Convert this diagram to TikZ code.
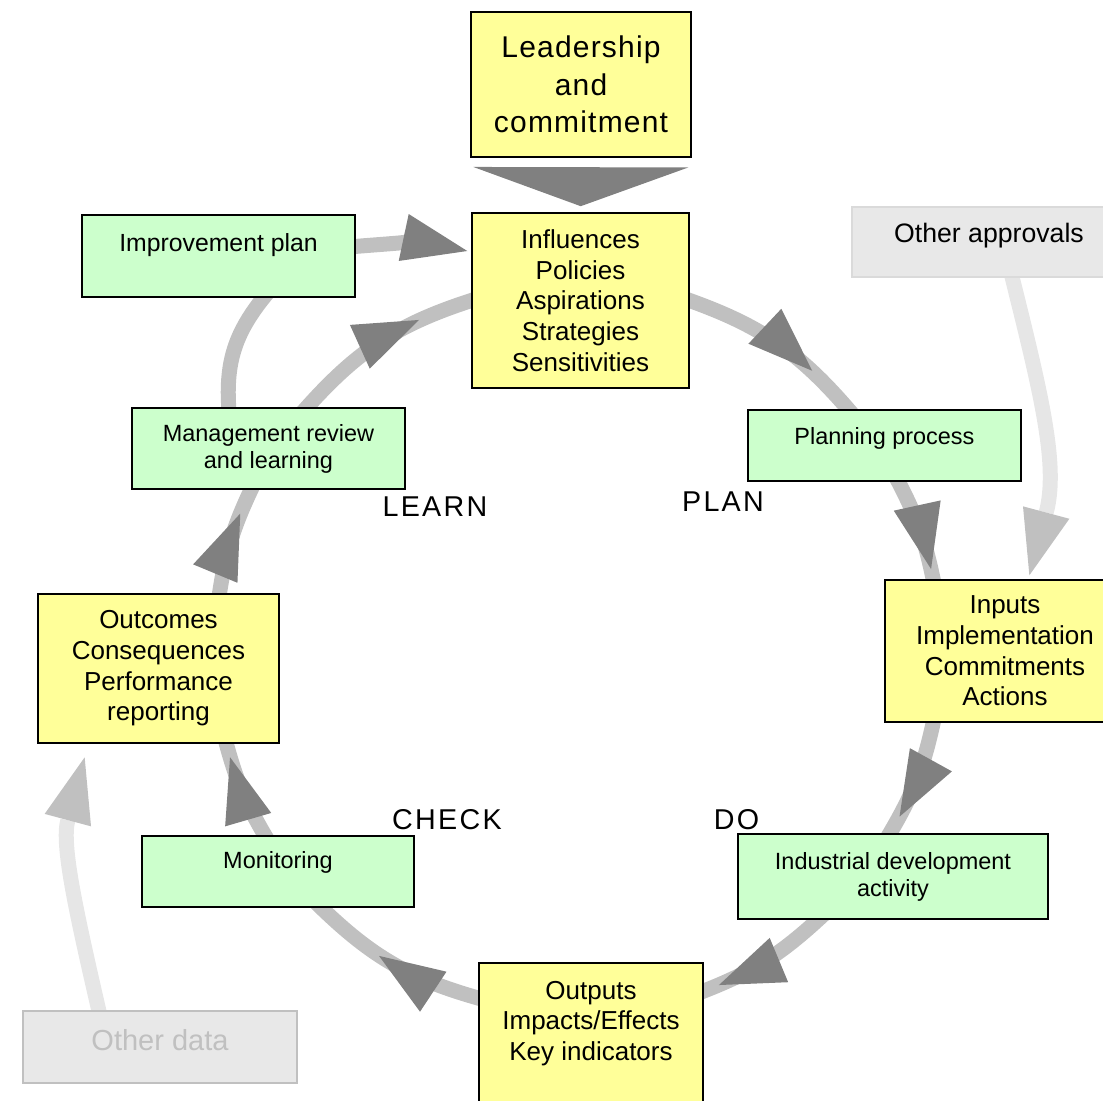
\documentclass[tikz,border=0pt]{standalone}
\usepackage{fontspec}
\setmainfont{Liberation Sans}
\newfontfamily\phasefont[LetterSpace=8]{Liberation Sans}
\newfontfamily\leadfont[LetterSpace=4]{Liberation Sans}
\definecolor{boxyellow}{HTML}{FFFF99}
\definecolor{boxgreen}{HTML}{CCFFCC}
\definecolor{boxgrey}{HTML}{E8E8E8}
\definecolor{edgegrey}{HTML}{DADADA}
\definecolor{ringgrey}{HTML}{C0C0C0}
\definecolor{headgrey}{HTML}{808080}
\definecolor{fadegrey}{HTML}{E6E6E6}
\usetikzlibrary{arrows.meta,positioning,decorations.markings,backgrounds}

\begin{document}
\begin{tikzpicture}[x=0.75pt,y=0.75pt,yscale=-1,xscale=1,
	box/.style={draw=black, line width=1.2pt, inner sep=0pt, align=center},
	yellowbox/.style={box, fill=boxyellow, font=\fontsize{19.5pt}{23pt}\selectfont},
	greenbox/.style={box, fill=boxgreen, minimum width=204.75pt, font=\fontsize{17.6pt}{20.25pt}\selectfont},
	greybox/.style={draw=#1, line width=1.2pt, fill=boxgrey, inner sep=0pt, minimum width=205.5pt},
	lifted/.style={text height=10pt, text depth=#1},
	phase/.style={font=\fontsize{21.5pt}{24pt}\phasefont},
	bighead/.tip={Triangle[length=48.75pt, width=36pt, line width=0pt, color=headgrey]},
	fadehead/.tip={Triangle[length=48.75pt, width=36pt, line width=0pt, color=ringgrey]},
	band/.style={draw=ringgrey, line width=11.25pt},
	fadeband/.style={draw=fadegrey, line width=11.25pt},
	ring/.style={band, shorten <=-6pt, shorten >=-6pt, postaction={decorate},
		decoration={markings, mark=at position #1 with {\arrow{bighead}}}}]
	\useasboundingbox (0,0) rectangle (1103,1100);
	
	%Shape: yellow boxes
	\node[yellowbox, minimum width=165pt, minimum height=108.75pt, font=\fontsize{22.5pt}{28pt}\leadfont] (leader) at (581,84.5) {Leadership\\and\\commitment};
	\node[yellowbox, minimum width=162.75pt, minimum height=131.25pt] (influences) at (580.5,300.5) {Influences\\Policies\\Aspirations\\Strategies\\Sensitivities};
	\node[yellowbox, minimum width=180pt, minimum height=106.5pt] (inputs) at (1005,651) {Inputs\\Implementation\\Commitments\\Actions};
	\node[yellowbox, minimum width=168pt, anchor=base, text height=27pt, text depth=94pt] (outputs) at (591,999) {\begin{tabular}[t]{@{}c@{}}Outputs\\Impacts/Effects\\Key indicators\end{tabular}};
	\node[yellowbox, minimum width=180.75pt, minimum height=111.75pt] (outcomes) at (158.5,668.5) {Outcomes\\Consequences\\Performance\\reporting};
	
	%Shape: green boxes
	\node[greenbox, minimum height=61.5pt, lifted=16.4pt, font=\fontsize{18.6pt}{22pt}\selectfont] (improve) at (218.5,256) {Improvement plan};
	\node[greenbox, minimum height=60.75pt] (review) at (268.5,448.5) {Management review\\and learning};
	\node[greenbox, minimum height=53.25pt, lifted=12pt] (planning) at (884.5,445.5) {Planning process};
	\node[greenbox, minimum width=232.5pt, minimum height=63.75pt] (activity) at (893,876.5) {Industrial development\\activity};
	\node[greenbox, minimum width=204pt, minimum height=53.25pt, lifted=15pt] (monitoring) at (278,871.5) {Monitoring};
	
	%Shape: grey boxes
	\node[greybox=edgegrey, minimum height=52.5pt, lifted=9.6pt, font=\fontsize{20pt}{24pt}\selectfont] (approvals) at (989,242) {Other approvals};
	\node[greybox=ringgrey, minimum height=54pt, lifted=5.2pt, text=ringgrey, font=\fontsize{21.75pt}{26pt}\selectfont] (otherdata) at (160,1047) {Other data};
	
	% Text Node
	\node[phase] (learn) at (435,507) {LEARN};
	\node[phase] (plan) at (723,502) {PLAN};
	\node[phase] (check) at (447,820) {CHECK};
	\node[phase] (do) at (736.5,820) {DO};
	
	%Straight Lines: leadership into influences
	\draw[-{Triangle[length=29.25pt, width=161.25pt, line width=0pt, color=headgrey]}, draw=headgrey, line width=0.1pt, shorten <=8.25pt, shorten >=4.5pt] (leader) -- (influences);
	
	\begin{scope}[on background layer]
		%Curves: the cycle
		\draw[ring=0.73] (influences.east) to[bend right=15.3] (planning.135);
		\draw[ring=0.90] (planning.-69) to[bend right=8.3] (inputs.135);
		\draw[ring=0.84] (inputs.225) to[bend right=9.5] (activity.94);
		\draw[ring=0.88] (activity.210) to[bend right=11] (outputs.25);
		\draw[ring=0.59] (outputs.158) to[bend right=14.6] (monitoring.-40);
		\draw[ring=0.86] (monitoring.110) to[bend right=8] (outcomes.-48);
		\draw[ring=0.76] (outcomes.51) to[bend right=8.7] (review.-113);
		\draw[ring=0.72] (review.47) to[bend right=15.7] (influences.west);
		%Curves: improvement loop
		\draw[band, shorten <=-6pt, shorten >=-6pt] (review.134) to[out=-95, in=130] (improve.-43);
		\draw[band, -{bighead}, shorten <=-6pt, shorten >=3pt] (improve.4) to[out=-5, in=-168] (influences.156);
		%Curves: outside inputs
		\draw[fadeband, -{fadehead}, shorten <=-6pt, shorten >=3pt] (approvals.-57) to[out=76, in=-75] (inputs.72);
		\draw[fadeband, -{fadehead}, shorten <=-6pt, shorten >=10.5pt] (otherdata.149) to[out=-103, in=105] (outcomes.227);
	\end{scope}
	
\end{tikzpicture}
\end{document}
